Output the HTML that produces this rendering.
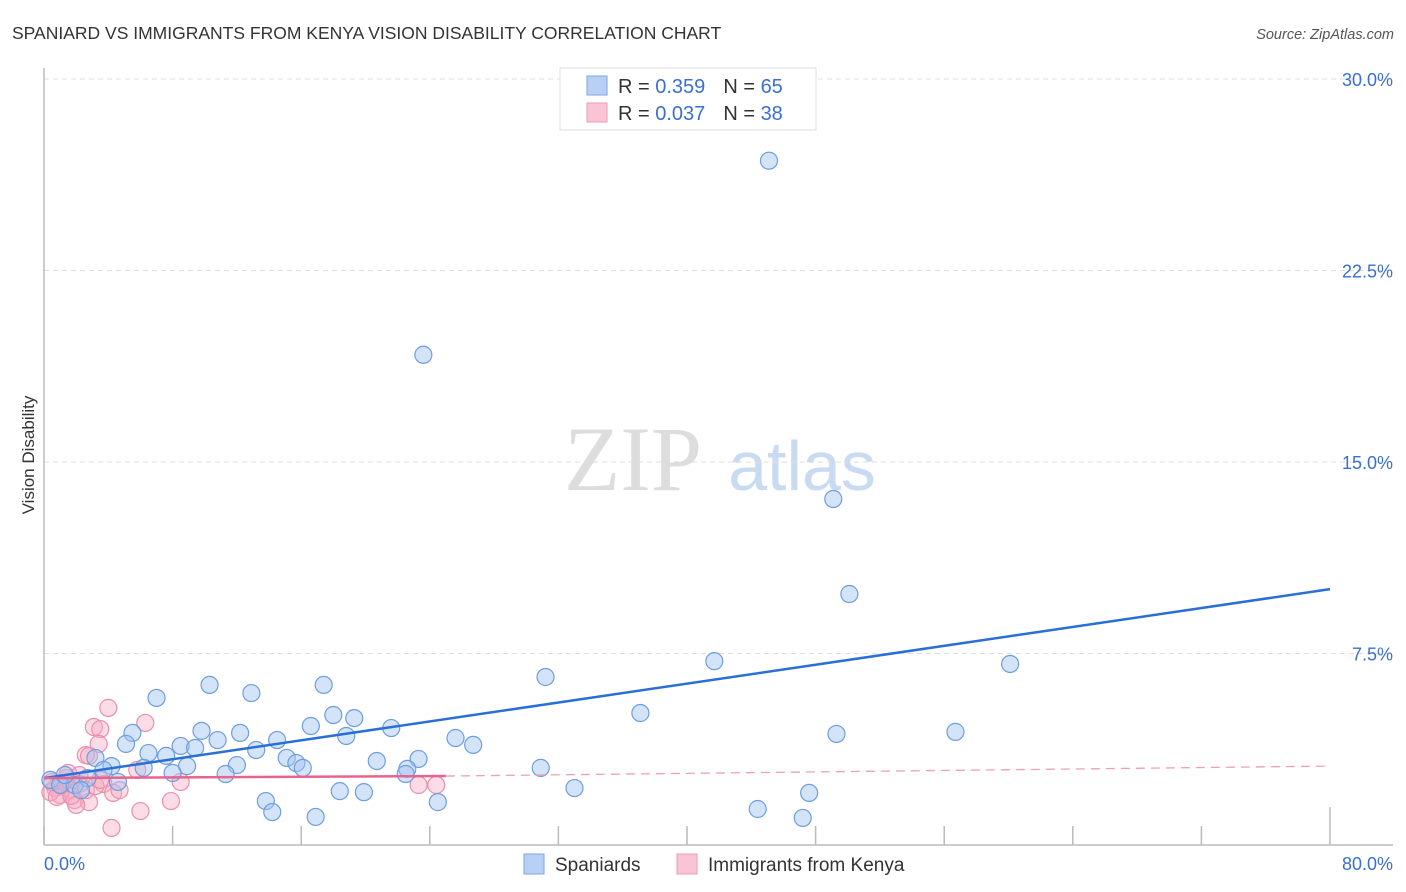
<!DOCTYPE html>
<html><head><meta charset="utf-8"><style>
body{margin:0;background:#fff;font-family:"Liberation Sans",sans-serif}
svg{display:block}
</style></head><body>
<svg id="chart" width="1406" height="892" viewBox="0 0 1406 892">
<text x="12" y="39" font-size="17.5" fill="#333">SPANIARD VS IMMIGRANTS FROM KENYA VISION DISABILITY CORRELATION CHART</text>
<text x="1394" y="39" font-size="14.5" fill="#555" font-style="italic" text-anchor="end">Source: ZipAtlas.com</text>
<text x="34" y="455" font-size="17" fill="#333" text-anchor="middle" transform="rotate(-90 34 455)">Vision Disability</text>
<g><text x="633" y="490" font-size="92" font-family="Liberation Serif,serif" fill="#ddd" text-anchor="middle">ZIP</text><text x="802" y="490" font-size="70" fill="#c9daf3" text-anchor="middle">atlas</text></g>
<g id="grid"></g><g id="axes"></g><g id="pts"></g><g id="trend"></g>
<g>
<rect x="560" y="68" width="256" height="62" fill="#fff" stroke="#ddd"/>
<rect x="587" y="76" width="20" height="19" fill="#b7d0f4" stroke="#7ba6e6"/>
<rect x="587" y="103" width="20" height="19" fill="#f9c5d4" stroke="#ee9ab4"/>
<text x="618" y="93" font-size="20" fill="#333">R = <tspan fill="#3a6fd0">0.359</tspan><tspan dx="18">N = </tspan><tspan fill="#3a6fd0">65</tspan></text>
<text x="618" y="120" font-size="20" fill="#333">R = <tspan fill="#3a6fd0">0.037</tspan><tspan dx="18">N = </tspan><tspan fill="#3a6fd0">38</tspan></text>
</g>
<g>
<rect x="524" y="854" width="20" height="20" fill="#b7d0f4" stroke="#7ba6e6"/>
<text x="555" y="871" font-size="19" fill="#333">Spaniards</text>
<rect x="677" y="854" width="20" height="20" fill="#f9c5d4" stroke="#ee9ab4"/>
<text x="708" y="871" font-size="19" fill="#333">Immigrants from Kenya</text>
</g>
</svg>
<script>
const yTicks=[7.5,15,22.5,30];
const yTickLabels=["7.5%","15.0%","22.5%","30.0%"];
const xTicks=[0,8,16,24,32,40,48,56,64,72,80];
const xEndLabels=["0.0%","80.0%"];
const blueX=[45.1,23.6,49.1,50.1,41.7,60.1,31.2,37.1,49.3,56.7,7.0,10.3,12.9,17.4,18.0,19.3,16.6,21.6,18.8,9.8,12.2,5.5,5.1,8.5,9.4,10.8,14.5,13.2,6.5,7.6,15.1,15.7,16.1,12.0,8.9,6.2,4.2,3.2,3.7,4.6,8.0,11.3,20.7,23.3,22.6,22.5,25.6,26.7,30.9,33.0,24.5,18.4,19.9,13.8,14.2,16.9,44.4,47.6,47.2,0.4,1.0,1.9,2.7,2.3,1.3];
const blueY=[26.8,19.2,13.55,9.83,7.2,7.09,6.58,5.17,4.35,4.43,5.76,6.27,5.95,6.27,5.09,4.97,4.66,4.58,4.27,4.47,4.39,4.39,3.96,3.88,3.80,4.11,4.11,3.72,3.60,3.49,3.41,3.21,3.02,3.13,3.09,3.02,3.09,3.41,2.94,2.47,2.82,2.78,3.29,3.37,2.98,2.78,4.19,3.92,3.02,2.23,1.68,2.11,2.07,1.72,1.29,1.10,1.41,2.04,1.06,2.55,2.35,2.35,2.62,2.15,2.74];
const pinkX=[4.0,3.1,3.5,6.3,3.4,2.6,2.8,5.8,3.7,4.3,2.2,1.6,1.0,1.9,2.8,2.0,6.0,7.9,4.2,8.5,23.3,24.4,1.4,0.7,0.4,0.8,2.6,3.2,1.5,2.2,3.5,1.1,0.5,1.7,4.7];
const pinkY=[5.37,4.62,4.54,4.78,3.96,3.52,3.49,2.94,2.39,2.04,2.39,2.15,1.96,1.76,1.68,1.57,1.33,1.72,0.67,2.47,2.35,2.35,2.62,2.23,2.07,1.88,2.15,2.31,2.82,2.74,2.55,2.35,2.47,1.92,2.15];
const blueTrendX=[0,80], blueTrendY=[2.62,10.02];
const pinkTrendX=[0,25,80], pinkTrendY=[2.62,2.70,3.09];

const X=v=>44+v/80*1286, Y=v=>845-v/30*766;
const NS="http://www.w3.org/2000/svg";
function mk(tag,attrs,parent){const e=document.createElementNS(NS,tag);for(const k in attrs)e.setAttribute(k,attrs[k]);parent.appendChild(e);return e;}
const grid=document.getElementById('grid'),axes=document.getElementById('axes'),pts=document.getElementById('pts'),trend=document.getElementById('trend');
yTicks.forEach((t,i)=>{
  const l=mk('line',{x1:44,x2:1393,y1:Y(t),y2:Y(t),stroke:'#ddd','stroke-dasharray':'5,4'},grid);
  
  
  const tx=mk('text',{x:1393,y:Y(t)+7,'font-size':18,fill:'#3a6fd0','text-anchor':'end'},axes);
  tx.textContent=yTickLabels[i];
  
  
});
const ya=mk('line',{x1:44,x2:44,y1:68,y2:845,stroke:'#bbb','stroke-width':1.5},axes);


const xa=mk('line',{x1:44,x2:1393,y1:845,y2:845,stroke:'#bbb','stroke-width':1.5},axes);


xTicks.forEach((t,i)=>{
  const last=i===xTicks.length-1;
  const l=mk('line',{x1:X(t),x2:X(t),y1:last?807:826,y2:845,stroke:'#bbb','stroke-width':1.5},axes);
  
  
});
[[0,44,'start'],[1,1393,'end']].forEach(([i,x,a])=>{
  const tx=mk('text',{x:x,y:870,'font-size':18,fill:'#3a6fd0','text-anchor':a},axes);
  tx.textContent=xEndLabels[i];
  
  
});
pinkX.forEach((v,i)=>{
  const c=mk('circle',{cx:X(v),cy:Y(pinkY[i]),r:8.5,fill:'rgba(248,170,195,0.4)',stroke:'#eb8fab','stroke-width':1.2},pts);
  
  
});
blueX.forEach((v,i)=>{
  const c=mk('circle',{cx:X(v),cy:Y(blueY[i]),r:8.5,fill:'rgba(160,195,240,0.45)',stroke:'#6e9de0','stroke-width':1.2},pts);
  
  
});
const bt=mk('line',{x1:X(blueTrendX[0]),y1:Y(blueTrendY[0]),x2:X(blueTrendX[1]),y2:Y(blueTrendY[1]),stroke:'#2a6fd6','stroke-width':2.5},trend);


const pt=mk('line',{x1:X(pinkTrendX[0]),y1:Y(pinkTrendY[0]),x2:X(pinkTrendX[1]),y2:Y(pinkTrendY[1]),stroke:'#e8648e','stroke-width':2.5},trend);


const pd=mk('line',{x1:X(pinkTrendX[1]),y1:Y(pinkTrendY[1]),x2:X(pinkTrendX[2]),y2:Y(pinkTrendY[2]),stroke:'#eba0b6','stroke-width':1.3,'stroke-dasharray':'9,6'},trend);


</script>
</body></html>
